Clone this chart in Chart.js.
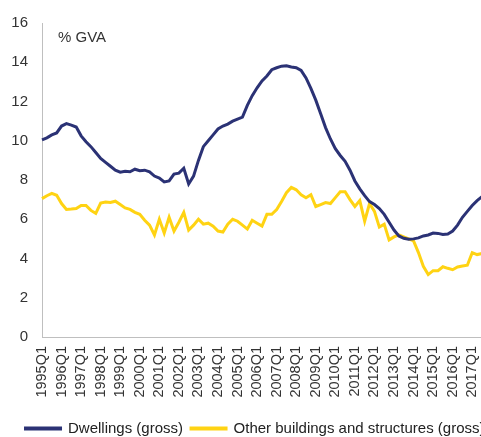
<!DOCTYPE html>
<html>
<head>
<meta charset="utf-8">
<script src="https://cdn.jsdelivr.net/npm/chart.js@4.4.0/dist/chart.umd.min.js"></script>
<style>
  html, body { margin: 0; padding: 0; background: #fff; overflow: hidden; }
  #wrap { width: 481px; height: 437px; overflow: hidden; }
  canvas { display: block; }
</style>
</head>
<body>
<div id="wrap"><canvas id="chart" width="510" height="446"></canvas></div>
<script>
const years = [1995, 1996, 1997, 1998, 1999, 2000, 2001, 2002, 2003, 2004, 2005, 2006,
               2007, 2008, 2009, 2010, 2011, 2012, 2013, 2014, 2015, 2016, 2017]
const quarters = ['Q1', 'Q2', 'Q3', 'Q4']

// % of GVA, quarterly from 1995Q1
const dwellings = [
  10.05, 10.15, 10.3, 10.4, 10.75, 10.87, 10.8, 10.7,
  10.25, 9.95, 9.7, 9.4, 9.1, 8.9, 8.7, 8.5,
  8.4, 8.45, 8.42, 8.55, 8.47, 8.5, 8.42, 8.2,
  8.1, 7.9, 7.95, 8.3, 8.35, 8.6, 7.8, 8.2,
  9.0, 9.7, 10.0, 10.3, 10.6, 10.75, 10.85, 11.0,
  11.1, 11.2, 11.8, 12.3, 12.7, 13.05, 13.3, 13.62,
  13.72, 13.8, 13.82, 13.76, 13.72, 13.58, 13.2, 12.67,
  12.07, 11.37, 10.67, 10.09, 9.6, 9.25, 8.95, 8.5,
  7.95, 7.55, 7.2, 6.9, 6.75, 6.55, 6.25, 5.85,
  5.45, 5.15, 5.03, 4.98, 5.0, 5.05, 5.15, 5.2,
  5.3, 5.28, 5.22, 5.25, 5.4, 5.7, 6.1, 6.4,
  6.7, 6.95, 7.15
]
const otherBuildings = [
  7.05, 7.2, 7.32, 7.22, 6.8, 6.5, 6.52, 6.55,
  6.7, 6.7, 6.45, 6.3, 6.82, 6.88, 6.85, 6.92,
  6.75, 6.58, 6.5, 6.35, 6.25, 5.95, 5.7, 5.2,
  6.0, 5.3, 6.1, 5.4, 5.85, 6.35, 5.45, 5.7,
  6.0, 5.75, 5.8, 5.65, 5.4, 5.35, 5.75, 6.0,
  5.9, 5.7, 5.5, 5.95, 5.8, 5.65, 6.25, 6.25,
  6.5, 6.9, 7.35, 7.62, 7.5, 7.25, 7.1, 7.25,
  6.65, 6.75, 6.85, 6.8, 7.1, 7.4, 7.4, 7.0,
  6.65, 6.95, 5.9, 6.8, 6.4, 5.6, 5.75, 4.95,
  5.1, 5.2, 5.1, 5.0, 4.9, 4.3, 3.6, 3.18,
  3.38, 3.38, 3.58, 3.5, 3.43, 3.57, 3.62, 3.66,
  4.3, 4.2, 4.25
]

const labels = []
years.forEach(y => quarters.forEach(q => labels.push(y + q)))
labels.length = dwellings.length

const font = 'Liberation Sans, Arial, sans-serif'

const gvaLabel = {
  id: 'gvaLabel',
  afterDraw (chart) {
    const ctx = chart.ctx
    ctx.save()
    ctx.font = '15px ' + font
    ctx.fillStyle = '#333'
    ctx.textBaseline = 'middle'
    ctx.fillText('% GVA', chart.chartArea.left + 16, chart.chartArea.top + 14.5)
    ctx.restore()
  }
}

const ctx = document.getElementById('chart').getContext('2d')
new Chart(ctx, {
  type: 'line',
  data: {
    labels: labels,
    datasets: [{
      label: 'Dwellings (gross)',
      data: dwellings,
      borderColor: '#2b3275',
      backgroundColor: '#2b3275',
      borderWidth: 3,
      pointRadius: 0,
      tension: 0,
      fill: false
    }, {
      label: 'Other buildings and structures (gross)',
      data: otherBuildings,
      borderColor: '#ffd313',
      backgroundColor: '#ffd313',
      borderWidth: 3,
      pointRadius: 0,
      tension: 0,
      fill: false
    }]
  },
  options: {
    responsive: false,
    animation: false,
    layout: { padding: { left: 0, right: 0, top: 20, bottom: 0 } },
    plugins: {
      legend: {
        position: 'bottom',
        labels: {
          boxWidth: 35,
          boxHeight: 1,
          padding: 8,
          color: '#222',
          font: { family: font, size: 15 }
        }
      },
      tooltip: { enabled: false }
    },
    scales: {
      x: {
        offset: false,
        grid: { display: false, drawTicks: false },
        border: { color: '#bfbfbf', width: 1 },
        ticks: {
          autoSkip: false,
          minRotation: 90,
          maxRotation: 90,
          padding: 9,
          color: '#333',
          font: { family: font, size: 14.5 },
          callback: function (v) {
            const l = this.getLabelForValue(v)
            return l.endsWith('Q1') ? l : ''
          }
        },
        afterFit: (s) => { s.height = 76 }
      },
      y: {
        min: 0,
        max: 16,
        grid: { display: false, drawTicks: false },
        border: { color: '#bfbfbf', width: 1 },
        ticks: {
          stepSize: 2,
          padding: 14,
          color: '#333',
          font: { family: font, size: 15 }
        },
        afterFit: (s) => { s.width = 42 }
      },
      // empty spacer on the right so the plot runs past the visible edge
      spacer: {
        type: 'linear',
        position: 'right',
        grid: { display: false, drawTicks: false },
        border: { display: false },
        ticks: { display: false },
        afterFit: (s) => { s.width = 28 }
      }
    }
  },
  plugins: [gvaLabel]
})
</script>
</body>
</html>
